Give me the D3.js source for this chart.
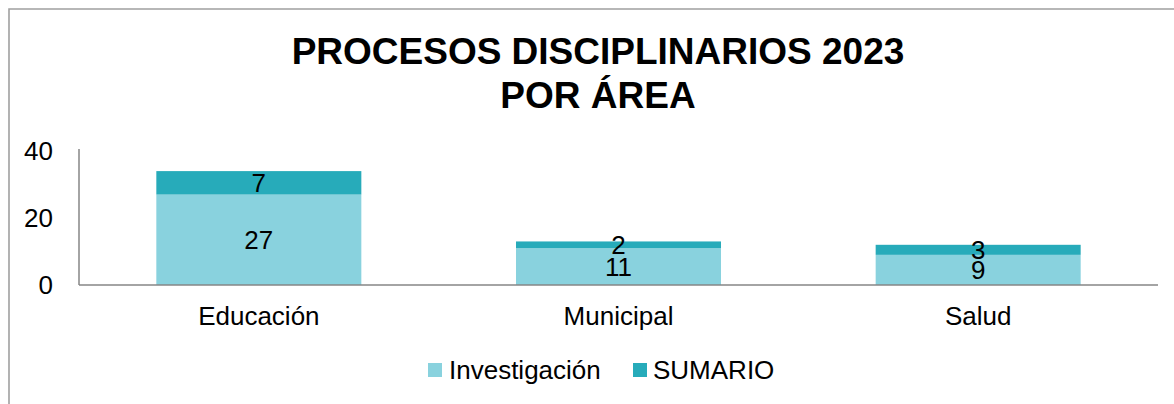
<!DOCTYPE html>
<html>
<head>
<meta charset="utf-8">
<script src="https://cdn.jsdelivr.net/npm/d3@7"></script>
<style>
  html, body { margin: 0; padding: 0; background: #fff; }
  svg { display: block; font-family: "Liberation Sans", Arial, sans-serif; }
</style>
</head>
<body>
<svg id="chart" width="1174" height="404"></svg>
<script>
// Disciplinary processes by area, stacked by process type
const categories = ["Educación", "Municipal", "Salud"];
const investigacion = [27, 11, 9];
const sumario = [7, 2, 3];
const seriesNames = ["Investigación", "SUMARIO"];
const yTicks = [0, 20, 40];
const titleLines = ["PROCESOS DISCIPLINARIOS 2023", "POR ÁREA"];

const colors = { "Investigación": "#89d2de", "SUMARIO": "#27abba" };
const FS = 26;

const svg = d3.select("#chart");
const W = 1174, H = 404;

// outer frame (left and top edges visible)
svg.append("path")
  .attr("d", `M9,${H} L9,9 L${W},9`)
  .attr("fill", "none")
  .attr("stroke", "#a0a0a0")
  .attr("stroke-width", 1.6);

// title
const title = svg.append("text")
  .attr("text-anchor", "middle")
  .attr("font-weight", "bold")
  .attr("font-size", 37)
  .attr("fill", "#000");
titleLines.forEach((t, i) => {
  title.append("tspan").attr("x", 598).attr("y", 64 + i * 44).text(t);
});

const rows = categories.map((c, i) => ({
  cat: c, "Investigación": investigacion[i], "SUMARIO": sumario[i]
}));
const stacked = d3.stack().keys(seriesNames)(rows);

const x = d3.scaleBand().domain(categories).range([79, 1158]).paddingInner(0.43).paddingOuter(0.215);
const y = d3.scaleLinear().domain([0, 40]).range([285, 151]);

// bars
const groups = svg.append("g").selectAll("g")
  .data(stacked).join("g")
  .attr("fill", d => colors[d.key]);
groups.selectAll("rect")
  .data(d => d)
  .join("rect")
  .attr("x", d => x(d.data.cat))
  .attr("width", x.bandwidth())
  .attr("y", d => y(d[1]))
  .attr("height", d => y(d[0]) - y(d[1]));

// value labels, centred in each segment
svg.append("g").selectAll("g")
  .data(stacked).join("g")
  .selectAll("text")
  .data(d => d.map(v => ({ v, key: d.key })))
  .join("text")
  .attr("x", d => x(d.v.data.cat) + x.bandwidth() / 2)
  .attr("y", d => (y(d.v[0]) + y(d.v[1])) / 2)
  .attr("dy", "0.36em")
  .attr("text-anchor", "middle")
  .attr("font-size", FS)
  .attr("fill", "#000")
  .text(d => d.v.data[d.key]);

// y axis
const yAxis = svg.append("g")
  .attr("transform", "translate(79,0)")
  .call(d3.axisLeft(y).tickValues(yTicks).tickSize(0).tickPadding(26));
yAxis.select(".domain").attr("stroke", "#868686").attr("stroke-width", 1.5)
  .attr("d", `M0,${y(40) - 2}V${y(0)}`);
yAxis.selectAll("text").attr("font-size", FS).attr("fill", "#000")
  .attr("font-family", "Liberation Sans, Arial, sans-serif");

// x axis
const xAxis = svg.append("g")
  .attr("transform", `translate(0,${y(0)})`)
  .call(d3.axisBottom(x).tickSize(0).tickPadding(22));
xAxis.select(".domain").attr("stroke", "#868686").attr("stroke-width", 1.5)
  .attr("d", "M79,0H1158");
xAxis.selectAll("text").attr("font-size", FS).attr("fill", "#000")
  .attr("font-family", "Liberation Sans, Arial, sans-serif");

// legend
const legendItems = [
  { name: seriesNames[0], sx: 428, tx: 449 },
  { name: seriesNames[1], sx: 633, tx: 653 }
];
const legend = svg.append("g");
legendItems.forEach(it => {
  legend.append("rect")
    .attr("x", it.sx).attr("y", 363).attr("width", 14).attr("height", 14)
    .attr("fill", colors[it.name]);
  legend.append("text")
    .attr("x", it.tx).attr("y", 379)
    .attr("font-size", FS).attr("fill", "#000")
    .text(it.name);
});
</script>
</body>
</html>
